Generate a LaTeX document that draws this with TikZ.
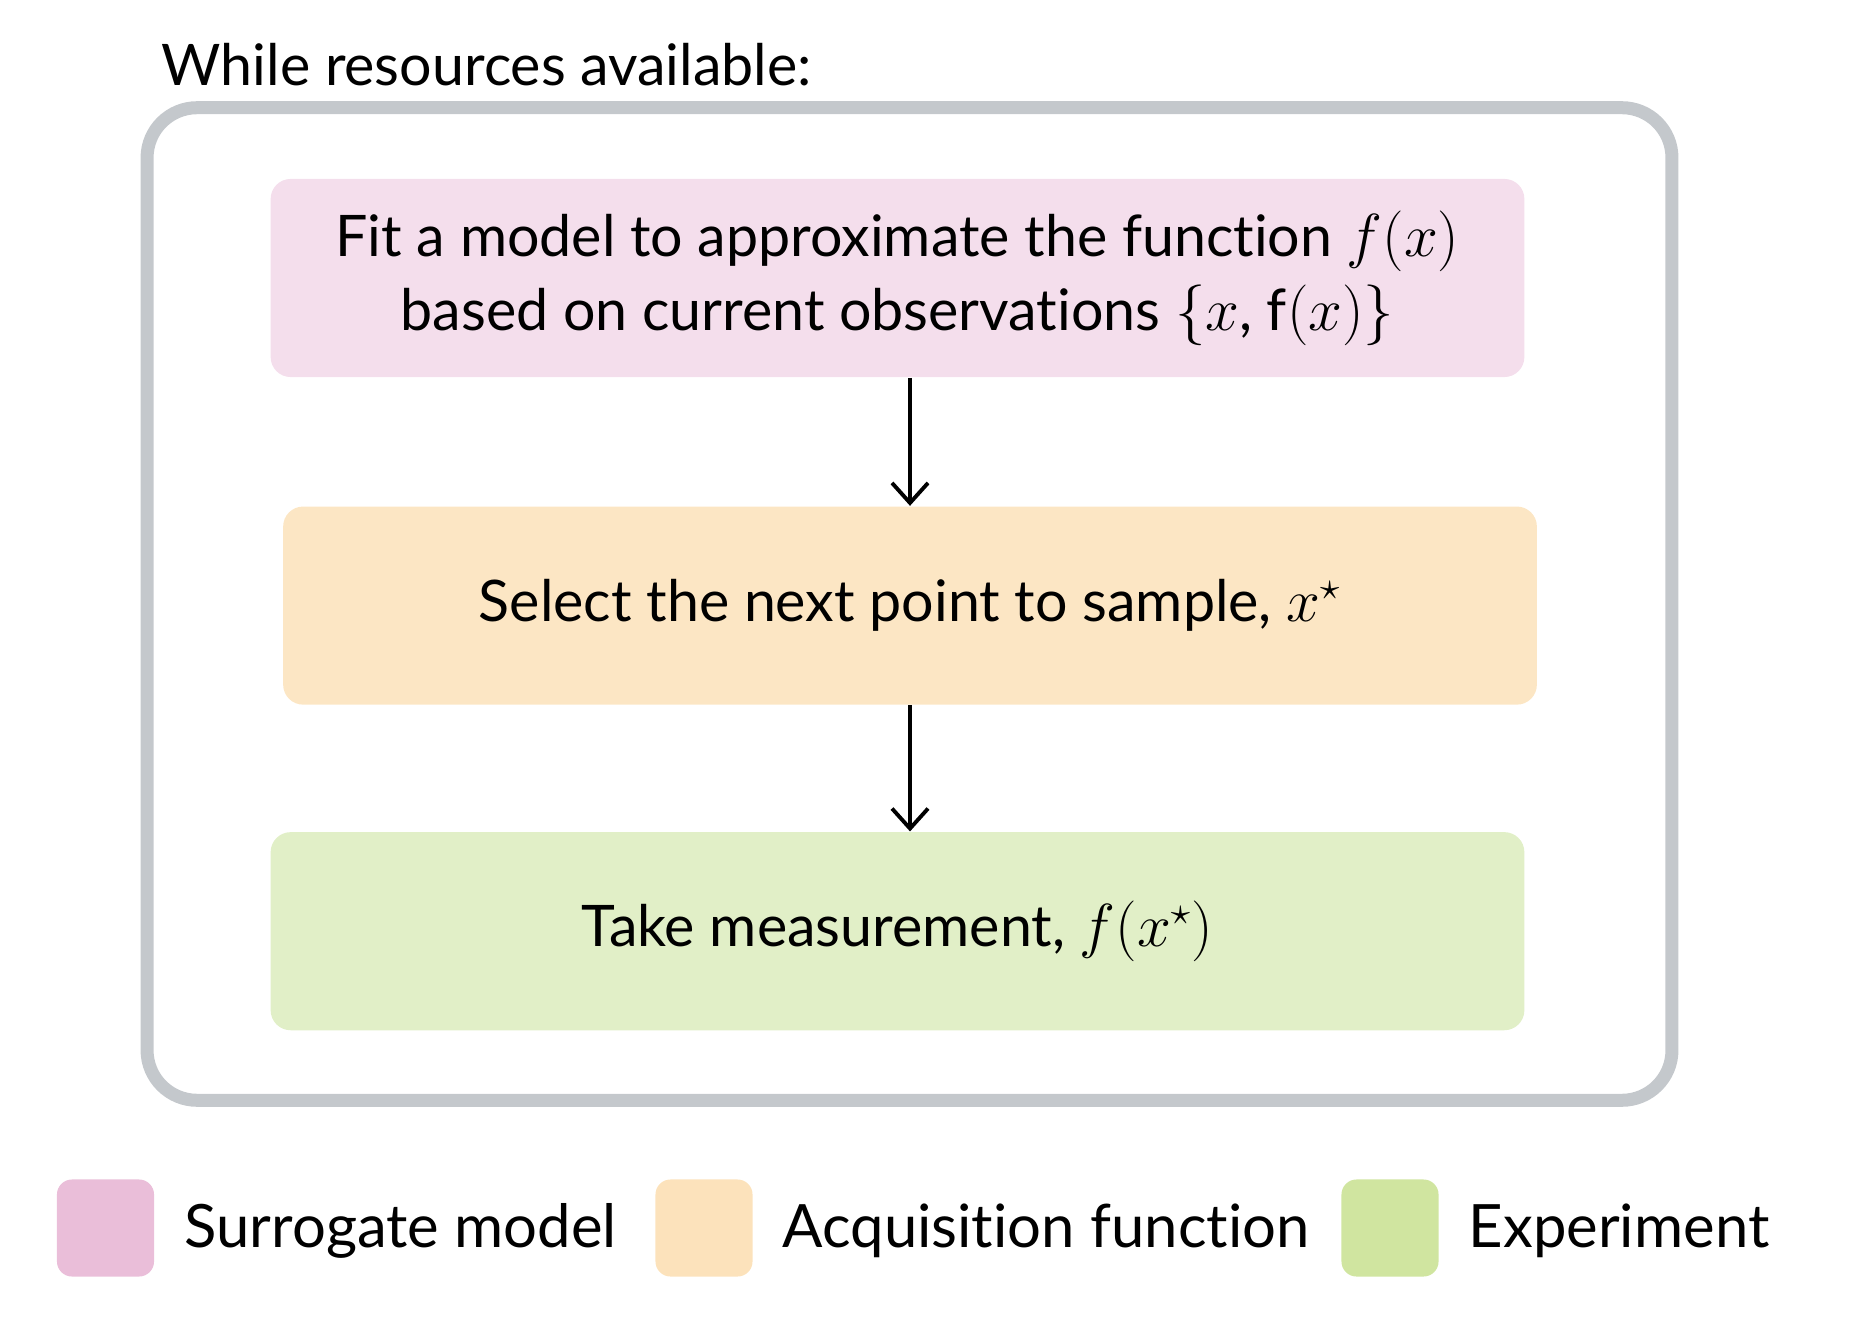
\documentclass[tikz,border=0pt]{standalone}
\usepackage{fontspec}
\setmainfont[Ligatures={NoCommon}]{Lato}
\usepackage{xcolor}
\usepackage{tikz}
\usetikzlibrary{arrows.meta,positioning}

\definecolor{surrogatebg}{HTML}{F4DEEC}
\definecolor{acquisitionbg}{HTML}{FCE6C4}
\definecolor{experimentbg}{HTML}{E1EFC7}
\definecolor{surrogatekey}{HTML}{EABED9}
\definecolor{acquisitionkey}{HTML}{FCE2BB}
\definecolor{experimentkey}{HTML}{D0E5A0}
\definecolor{framegray}{HTML}{C4C8CC}

\begin{document}
\begin{tikzpicture}[
    x=0.01cm, y=-0.01cm,
    step box/.style={rectangle, rounded corners=0.2cm, minimum width=12.53cm, minimum height=1.98cm, align=center, font=\fontsize{16.3}{21}\selectfont},
    surrogate/.style={step box, fill=surrogatebg},
    acquisition/.style={step box, fill=acquisitionbg},
    experiment/.style={step box, fill=experimentbg},
    key/.style={rectangle, rounded corners=0.15cm, minimum size=0.97cm},
    keytext/.style={anchor=base west, inner sep=0pt, font=\fontsize{17}{22}\selectfont},
    arrow/.style={-{Straight Barb[length=0.2cm,width=0.36cm]}, line width=1.1pt},
    loop/.style={draw=framegray, line width=0.13cm, rounded corners=0.5cm, minimum width=15.24cm, minimum height=9.92cm}
]

\useasboundingbox (0,0) rectangle (1849,1328);

% outer loop
\node[anchor=base west, inner sep=0pt, font=\fontsize{16.3}{21}\selectfont] (title) at (161,86) {While resources available:};
\node[loop] (frame) at (909.5,604) {};

% steps
\node[surrogate] (fitmodel) at (897.5,278) {Fit a model to approximate the function $f(x)$\\ based on current observations $\{x$, f$(x)\}$};
\node[acquisition, below=1.28cm of fitmodel, xshift=0.125cm] (select) {Select the next point to sample, $x^\star$};
\node[experiment, below=1.26cm of select, xshift=-0.125cm] (measure) {Take measurement, $f(x^\star)$};

\draw[arrow] (fitmodel.south -| select.north) -- (select.north);
\draw[arrow] (select.south) -- (measure.north -| select.south);

% legend
\node[key, fill=surrogatekey] (keysur) at (105.5,1228) {};
\node[keytext] (labsur) at (184,1247) {Surrogate model};
\node[key, fill=acquisitionkey] (keyacq) at (704,1228) {};
\node[keytext] (labacq) at (782,1247) {Acquisition function};
\node[key, fill=experimentkey] (keyexp) at (1390,1228) {};
\node[keytext] (labexp) at (1468,1247) {Experiment};

\end{tikzpicture}
\end{document}
